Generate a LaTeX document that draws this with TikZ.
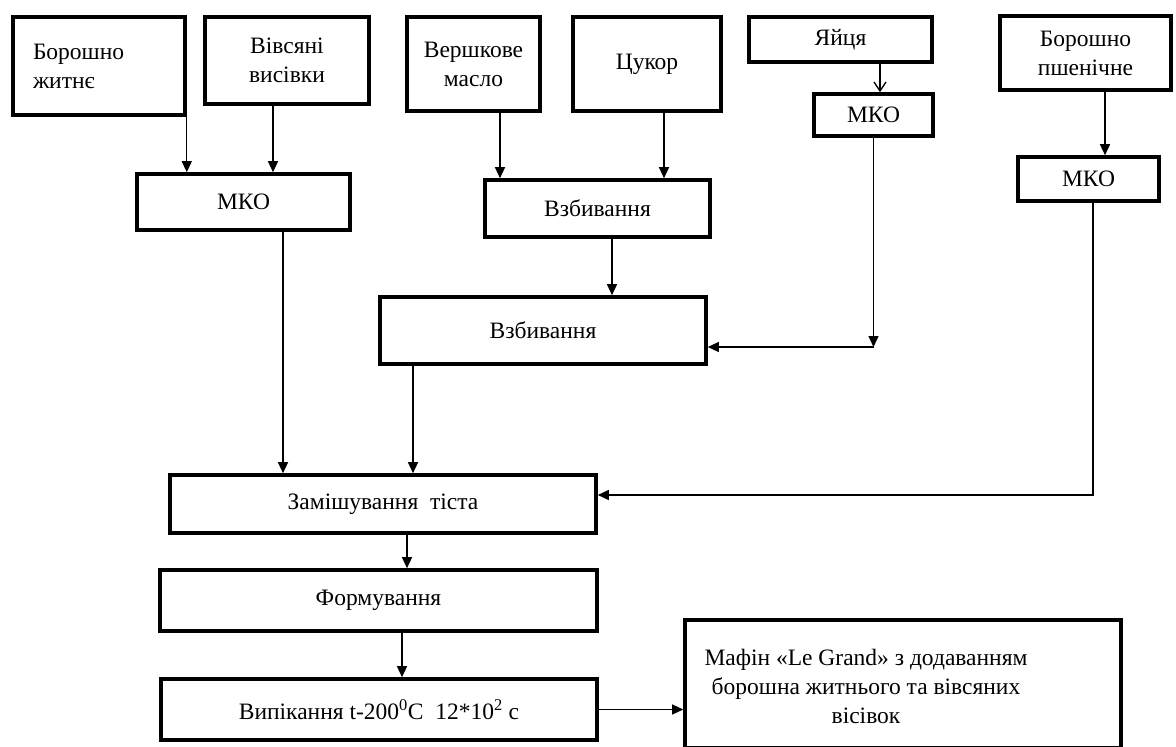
\documentclass[tikz,border=0pt]{standalone}
\usepackage{fontspec}
\setmainfont{Liberation Serif}
\usetikzlibrary{arrows.meta}
\begin{document}
\begin{tikzpicture}[x=1pt,y=-1pt,
  box/.style={draw, line width=3.6pt, rectangle, inner sep=0pt, align=center,
    font=\fontsize{23.5}{29}\selectfont},
  lbl/.style={inner sep=0pt, align=center, font=\fontsize{23.5}{29}\selectfont},
  arr/.style={line width=1.3pt, -{Triangle[length=11pt,width=10pt]}},
  oarr/.style={line width=1.3pt, -{Straight Barb[length=9pt,width=12pt,line width=1.3pt]}},
  ln/.style={line width=1.3pt}]
\useasboundingbox (0,0) rectangle (1176,747);
\fill[white] (0,0) rectangle (1176,747);

\node[box, minimum width=172pt, minimum height=98pt, text width=132pt, align=left] (bzh) at (99,66) {Борошно\\житнє};
\node[box, minimum width=164pt, minimum height=87pt] (vv) at (287,60.5) {Вівсяні\\висівки};
\node[box, minimum width=133pt, minimum height=94pt] (vm) at (473.5,64) {Вершкове\\масло};
\node[box, minimum width=148pt, minimum height=94pt] (cuk) at (647,64) {Цукор};
\node[box, minimum width=183pt, minimum height=45pt] (yay) at (840.5,39.5) {Яйця};
\node[box, minimum width=119pt, minimum height=42pt] (mko2) at (873.5,115) {МКО};
\node[box, minimum width=171pt, minimum height=74pt] (bp) at (1085.5,53) {Борошно\\пшенічне};
\node[box, minimum width=141pt, minimum height=44pt] (mko3) at (1088.5,179) {МКО};
\node[box, minimum width=213pt, minimum height=56pt] (mko1) at (243.5,202) {МКО};
\node[box, minimum width=225pt, minimum height=57pt] (vz1) at (597.5,208.5) {Взбивання};
\node[box, minimum width=326pt, minimum height=67pt] (vz2) at (543,330.5) {Взбивання};
\node[box, minimum width=426pt, minimum height=58pt] (zam) at (383,504) {Замішування\ \ тіста};
\node[box, minimum width=437pt, minimum height=61pt] (form) at (378.5,600.5) {Формування};
\node[box, minimum width=436pt, minimum height=61pt] (vyp) at (379,709.5) {Випікання t-200\textsuperscript{0}C\ \ 12*10\textsuperscript{2} с};
\node[box, minimum width=436pt, minimum height=128pt] (maf) at (903,684) {};
\node[lbl] (maftxt) at (866,686) {Мафін «Le Grand» з додаванням\\борошна житнього та вівсяних\\вісівок};

\coordinate (ej) at (873.5,347);

\draw[arr] (bzh.south east) -- (bzh.south east |- mko1.north);
\draw[arr] ([xshift=-14pt]vv.south) -- ([xshift=-14pt]vv.south |- mko1.north);
\draw[arr] ([xshift=26.5pt]vm.south) -- ([xshift=26.5pt]vm.south |- vz1.north);
\draw[arr] ([xshift=17pt]cuk.south) -- ([xshift=17pt]cuk.south |- vz1.north);
\draw[oarr] ([xshift=39.5pt]yay.south) -- ([xshift=39.5pt]yay.south |- mko2.north);
\draw[arr] ([xshift=19.5pt]bp.south) -- ([xshift=19.5pt]bp.south |- mko3.north);
\draw[arr] ([xshift=14.5pt]vz1.south) -- ([xshift=14.5pt]vz1.south |- vz2.north);
\draw[arr] (mko2.south) -- (ej);
\draw[arr] (ej) -- (ej -| vz2.east);
\draw[arr] ([xshift=39.5pt]mko1.south) -- ([xshift=39.5pt]mko1.south |- zam.north);
\draw[arr] ([xshift=-130pt]vz2.south) -- ([xshift=-130pt]vz2.south |- zam.north);
\draw[arr] ([xshift=4.5pt]mko3.south) |- ([yshift=9pt]zam.east);
\draw[arr] ([xshift=24pt]zam.south) -- ([xshift=24pt]zam.south |- form.north);
\draw[arr] ([xshift=23.5pt]form.south) -- ([xshift=23.5pt]form.south |- vyp.north);
\draw[arr] (vyp.east) -- (vyp.east -| maf.west);
\end{tikzpicture}
\end{document}
